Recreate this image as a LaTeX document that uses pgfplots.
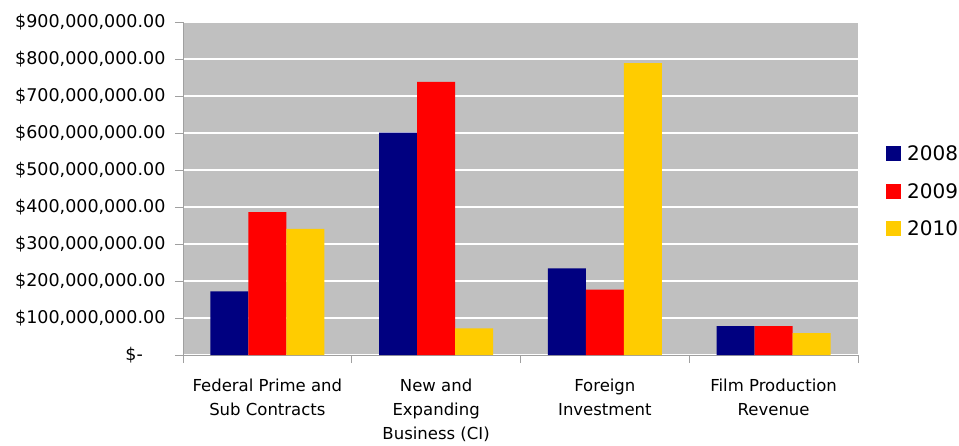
\documentclass[border=0pt]{standalone}
\usepackage{pgfplots}
\pgfplotsset{compat=1.18}
\usepackage{fontspec}
\setmainfont{DejaVu Sans}
\definecolor{bggray}{HTML}{C0C0C0}
\definecolor{c2008}{HTML}{000080}
\definecolor{c2009}{HTML}{FF0000}
\definecolor{c2010}{HTML}{FFCC00}
\definecolor{axgray}{HTML}{A0A0A0}
\begin{document}
\begin{tikzpicture}
\path[use as bounding box] (-183pt,-90pt) rectangle (776pt,355pt);
\begin{axis}[
  at={(0,0)}, anchor=south west,
  scale only axis, width=675pt, height=333pt,
  xmin=-0.5, xmax=3.5, ymin=0, ymax=900,
  axis background/.style={fill=bggray},
  axis x line=bottom, axis y line=left,
  axis line style={draw=axgray, line width=0.8pt, -},
  ybar=0pt, bar width=38pt,
  ytick={0,100,...,900},
  yticklabels={{\makebox[40pt][l]{\$-}},{\$100,000,000.00},{\$200,000,000.00},{\$300,000,000.00},{\$400,000,000.00},{\$500,000,000.00},{\$600,000,000.00},{\$700,000,000.00},{\$800,000,000.00},{\$900,000,000.00}},
  yticklabel style={font=\fontsize{17.5}{20}\selectfont, xshift=-6pt},
  xtick={0,1,2,3},
  xticklabels={{Federal Prime and\\Sub Contracts},{New and\\Expanding\\Business (CI)},{Foreign\\Investment},{Film Production\\Revenue}},
  xticklabel style={font=\fontsize{16.5}{24}\selectfont, align=center, yshift=-12pt},
  x tick style={draw=none},
  minor xtick={-0.5,0.5,1.5,2.5,3.5},
  minor x tick style={draw=axgray, line width=0.8pt},
  y tick style={draw=axgray, line width=0.8pt},
  tick align=outside, major tick length=8pt, minor tick length=8pt,
  ymajorgrids, grid style={white, line width=1.3pt},
  legend style={at={(1,0.5)}, anchor=west, xshift=25pt, yshift=-3pt, draw=none, fill=none,
    font=\fontsize{20}{24}\selectfont, row sep=17pt},
  legend cell align=left,
  legend image code/.code={\fill[#1] (0pt,-7pt) rectangle (15pt,8pt); \path (19pt,0pt);},
]
\addplot[fill=c2008, draw=none] coordinates {(0,172) (1,601) (2,234) (3,78)};
\addplot[fill=c2009, draw=none] coordinates {(0,386) (1,738) (2,177) (3,78)};
\addplot[fill=c2010, draw=none] coordinates {(0,341) (1,72) (2,789) (3,59)};
\legend{2008,2009,2010}
\end{axis}
\end{tikzpicture}
\end{document}
